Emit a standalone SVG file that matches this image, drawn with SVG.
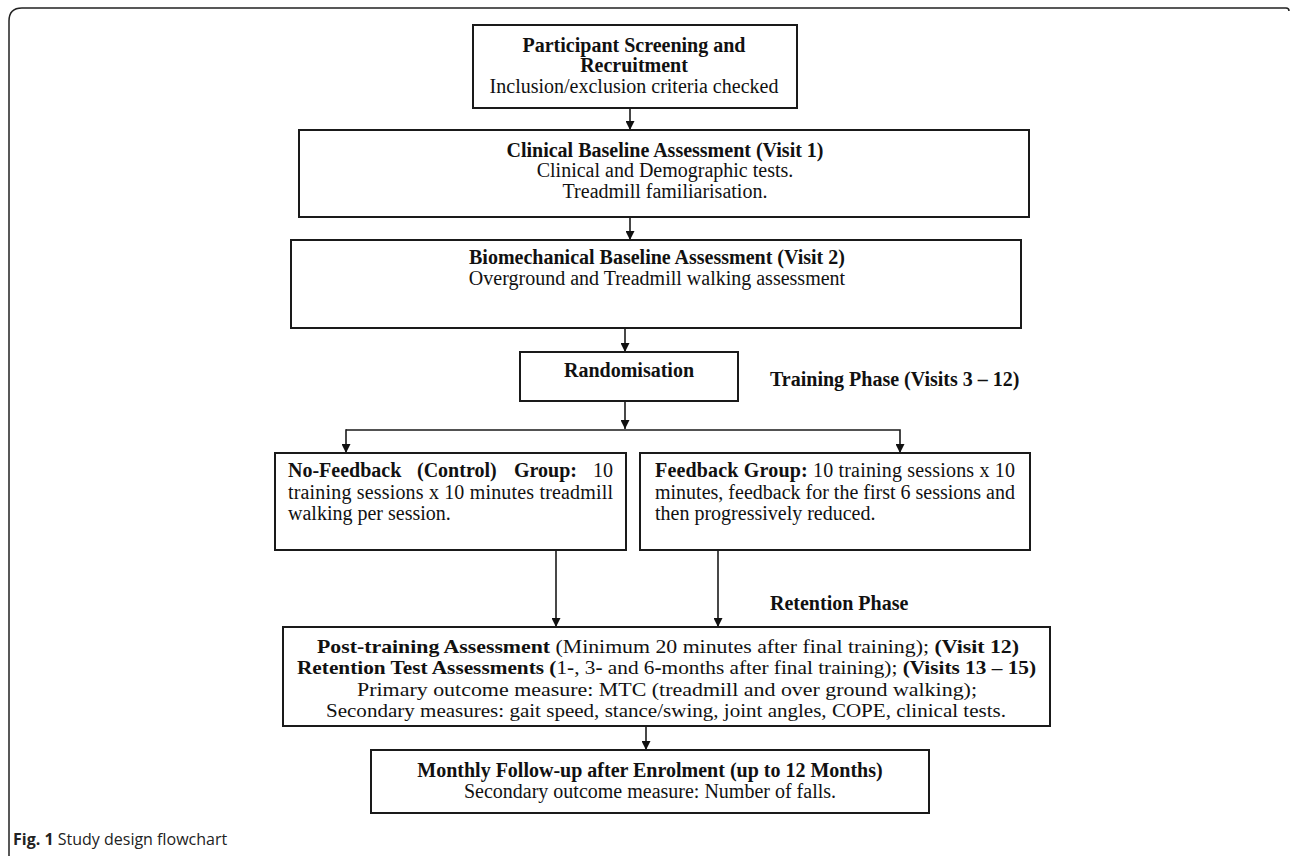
<svg xmlns="http://www.w3.org/2000/svg" width="1290" height="856" viewBox="0 0 1290 856">
<style>
.box{fill:#fff;stroke:#1a1a1a;stroke-width:2}
.t{font-family:"Liberation Serif","Times New Roman",serif;font-size:20px;fill:#111}
.p{font-size:19px}
.c{text-anchor:middle}
.e{text-anchor:end}
.b{font-weight:bold}
.ln{stroke:#1a1a1a;stroke-width:1.6;fill:none}
.cap{font-family:"Open Sans","Noto Sans",sans-serif;font-size:16px;fill:#222}
</style>
<defs>
<marker id="ah" viewBox="0 0 10 10" refX="10" refY="5" markerWidth="11" markerHeight="9" markerUnits="userSpaceOnUse" orient="auto">
<path d="M0,0 L10,5 L0,10 z" fill="#111"/>
</marker>
</defs>
<rect width="1290" height="856" fill="#fff"/>
<path d="M9,860 L9,21 Q9,8 22,8 L1286,8 Q1289,8 1289,11" fill="none" stroke="#222" stroke-width="1.5"/>

<g id="connectors">
<line class="ln" x1="630" y1="108" x2="630" y2="130" marker-end="url(#ah)"/>
<line class="ln" x1="630" y1="217" x2="630" y2="240" marker-end="url(#ah)"/>
<line class="ln" x1="625" y1="328" x2="625" y2="352" marker-end="url(#ah)"/>
<line class="ln" x1="625" y1="401" x2="625" y2="429" marker-end="url(#ah)"/>
<polyline class="ln" points="346,430 900,430 900,453" marker-end="url(#ah)"/>
<line class="ln" x1="346" y1="429.2" x2="346" y2="453" marker-end="url(#ah)"/>
<line class="ln" x1="556" y1="550" x2="556" y2="627" marker-end="url(#ah)"/>
<line class="ln" x1="718" y1="550" x2="718" y2="627" marker-end="url(#ah)"/>
<line class="ln" x1="646" y1="726" x2="646" y2="750" marker-end="url(#ah)"/>
</g>

<g id="screening">
<rect class="box" x="473" y="25" width="324" height="83"/>
<text class="t c b" x="634" y="52">Participant Screening and</text>
<text class="t c b" x="634" y="72">Recruitment</text>
<text class="t c" x="634" y="93">Inclusion/exclusion criteria checked</text>
</g>

<g id="clinical">
<rect class="box" x="299" y="130" width="730" height="87"/>
<text class="t c b" x="665" y="157">Clinical Baseline Assessment (Visit 1)</text>
<text class="t c" x="665" y="177">Clinical and Demographic tests.</text>
<text class="t c" x="665" y="198">Treadmill familiarisation.</text>
</g>

<g id="biomech">
<rect class="box" x="291" y="240" width="730" height="88"/>
<text class="t c b" x="657" y="264">Biomechanical Baseline Assessment (Visit 2)</text>
<text class="t c" x="657" y="285">Overground and Treadmill walking assessment</text>
</g>

<g id="randomisation">
<rect class="box" x="520" y="352" width="218" height="49"/>
<text class="t c b" x="629" y="377">Randomisation</text>
</g>

<g id="training-label">
<text class="t b" x="770" y="386">Training Phase (Visits 3 – 12)</text>
</g>

<g id="nofeedback">
<rect class="box" x="275" y="453" width="351" height="97"/>
<text class="t b" x="288" y="477">No-Feedback</text>
<text class="t b" x="417" y="477">(Control)</text>
<text class="t b" x="514" y="477">Group:</text>
<text class="t e" x="613" y="477">10</text>
<text class="t" x="288" y="499" textLength="325" lengthAdjust="spacing">training sessions x 10 minutes treadmill</text>
<text class="t" x="288" y="520">walking per session.</text>
</g>

<g id="feedback">
<rect class="box" x="640" y="453" width="390" height="97"/>
<text class="t" x="655" y="477" textLength="360" lengthAdjust="spacing"><tspan class="b">Feedback Group:</tspan> 10 training sessions x 10</text>
<text class="t" x="655" y="499" textLength="360" lengthAdjust="spacing">minutes, feedback for the first 6 sessions and</text>
<text class="t" x="655" y="520">then progressively reduced.</text>
</g>

<g id="retention-label">
<text class="t b" x="770" y="610">Retention Phase</text>
</g>

<g id="post">
<rect class="box" x="283" y="627" width="767" height="99"/>
<text class="t p" x="317" y="652.5" textLength="702" lengthAdjust="spacingAndGlyphs"><tspan class="b">Post-training Assessment</tspan> (Minimum 20 minutes after final training); <tspan class="b">(Visit 12)</tspan></text>
<text class="t p" x="297" y="674" textLength="739" lengthAdjust="spacingAndGlyphs"><tspan class="b">Retention Test Assessments (</tspan>1<tspan class="b">-</tspan>, 3<tspan class="b">-</tspan> and 6<tspan class="b">-</tspan>months after final training); <tspan class="b">(Visits 13 – 15)</tspan></text>
<text class="t p" x="357" y="695.5" textLength="620" lengthAdjust="spacingAndGlyphs">Primary outcome measure: MTC (treadmill and over ground walking);</text>
<text class="t p" x="326" y="717" textLength="680" lengthAdjust="spacingAndGlyphs">Secondary measures: gait speed, stance/swing, joint angles, COPE, clinical tests.</text>
</g>

<g id="monthly">
<rect class="box" x="371" y="750" width="558" height="63"/>
<text class="t c b" x="650" y="777">Monthly Follow-up after Enrolment (up to 12 Months)</text>
<text class="t c" x="650" y="798">Secondary outcome measure: Number of falls.</text>
</g>

<g id="caption">
<text class="cap" x="13" y="845"><tspan font-weight="bold">Fig. 1</tspan> Study design flowchart</text>
</g>
</svg>
